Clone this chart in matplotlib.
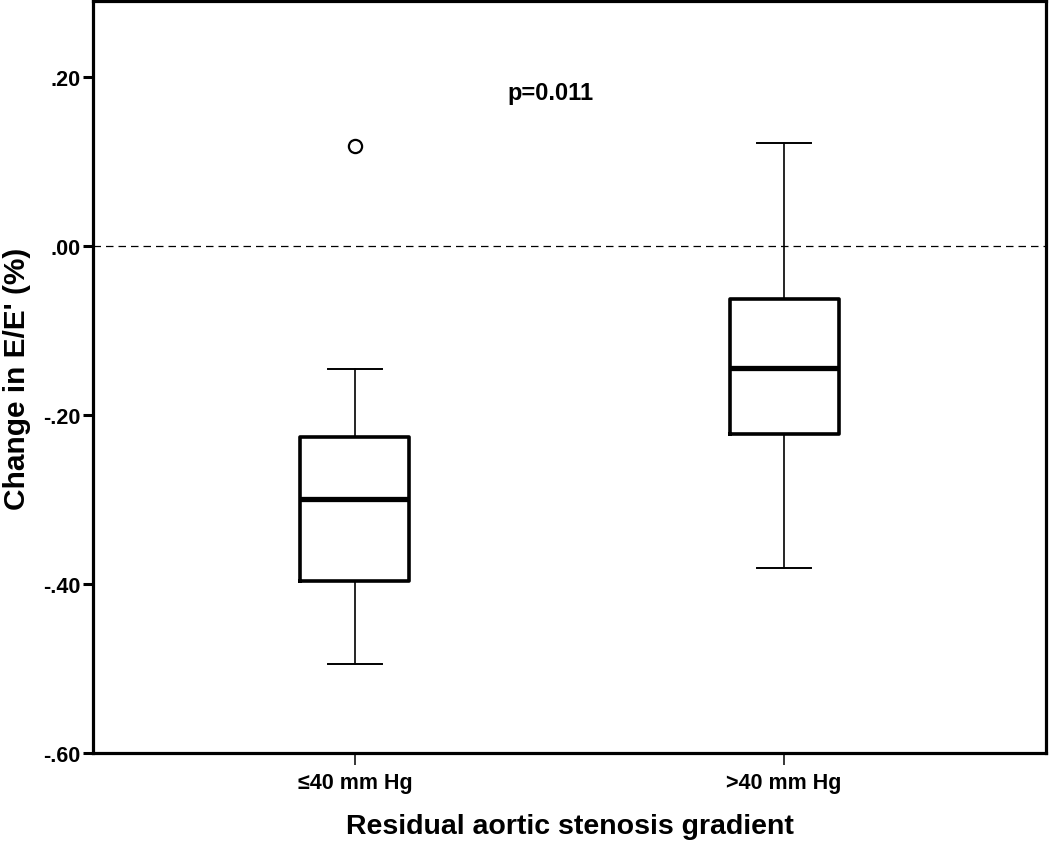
import matplotlib
matplotlib.use("Agg")
import matplotlib.pyplot as plt

# ---- data ----
categories = ["\u226440 mm Hg", ">40 mm Hg"]
whisker_low = [-0.495, -0.381]
q1 = [-0.396, -0.223]
median = [-0.300, -0.145]
q3 = [-0.226, -0.063]
whisker_high = [-0.146, 0.121]
outliers = [[0.118], []]
y_ticks = [0.20, 0.00, -0.20, -0.40, -0.60]
y_tick_labels = [".20", ".00", "-.20", "-.40", "-.60"]
p_text = "p=0.011"

fam = ["Liberation Sans", "DejaVu Sans"]

fig = plt.figure(figsize=(10.5, 8.45), dpi=100)
ax = fig.add_axes([0.0886, 0.1077, 0.9076, 0.8905])

stats = []
for i in range(len(categories)):
    stats.append(dict(med=median[i], q1=q1[i], q3=q3[i],
                      whislo=whisker_low[i], whishi=whisker_high[i],
                      fliers=outliers[i], label=categories[i]))

positions = list(range(1, len(categories) + 1))
ax.bxp(stats, positions=positions, widths=0.254, capwidths=0.126,
       showfliers=True, patch_artist=False,
       boxprops=dict(color="black", linewidth=2.6),
       medianprops=dict(color="black", linewidth=3.8, solid_capstyle="butt"),
       whiskerprops=dict(color="black", linewidth=1.2),
       capprops=dict(color="black", linewidth=1.4),
       flierprops=dict(marker="o", markerfacecolor="white", markeredgecolor="black",
                       markersize=9.5, markeredgewidth=1.6, linestyle="none"))

ax.axhline(0.0, color="black", linewidth=0.9, linestyle=(0, (6, 4)), zorder=0)

ax.set_xlim(0.39, 2.61)
ax.set_ylim(-0.60, 0.29)
ax.set_yticks(y_ticks)
ax.set_yticklabels(y_tick_labels)
ax.set_xticks(positions)
ax.set_xticklabels(categories)

for sp in ax.spines.values():
    sp.set_linewidth(2.3)
    sp.set_color("black")

ax.tick_params(axis="y", direction="out", length=7, width=2.2, pad=2)
ax.tick_params(axis="x", direction="out", length=8.5, width=1.1, pad=5)
for lab in ax.get_yticklabels() + ax.get_xticklabels():
    lab.set_family(fam)
    lab.set_fontweight("bold")
    lab.set_fontsize(15.5)

fig.text(0.5425, 1 - 827 / 845, "Residual aortic stenosis gradient", family=fam,
         fontweight="bold", fontsize=20.5, ha="center", va="center")
fig.text(17 / 1050, 1 - 379 / 845, "Change in E/E' (%)", family=fam,
         fontweight="bold", fontsize=21.5, rotation=90, ha="center", va="center")

ax.text(0.48, 0.878, p_text, transform=ax.transAxes, ha="center", va="center",
        family=fam, fontweight="bold", fontsize=17)

fig.savefig("out.png", dpi=100)
